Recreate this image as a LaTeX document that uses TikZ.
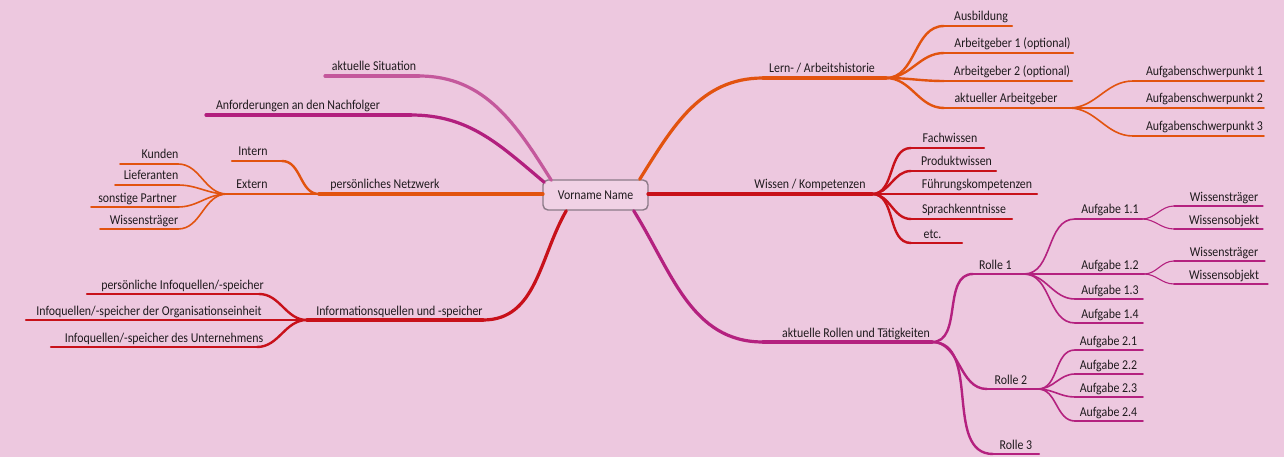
\documentclass[tikz,border=0pt]{standalone}
\usepackage{fontspec}
\setmainfont{Carlito}[FakeStretch=0.88]
\definecolor{bg}{HTML}{EDC8DF}
\definecolor{boxfill}{HTML}{F0D1E5}
\definecolor{boxline}{HTML}{8C7A88}
\definecolor{txt}{HTML}{1F1A1D}
\definecolor{csit}{HTML}{C4589C}
\definecolor{canf}{HTML}{B21F7E}
\definecolor{corg}{HTML}{E2530F}
\definecolor{cred}{HTML}{C8111A}
\definecolor{cmag}{HTML}{B4217F}
\tikzset{
  lbl/.style={anchor=base, inner sep=0pt, font=\fontsize{13.5}{15}\selectfont, text=txt},
  ln/.style={line cap=round, draw=#1},
  w0/.style={line width=3.2pt},
  w1/.style={line width=2.4pt},
  w2/.style={line width=1.6pt},
  w3/.style={line width=1.1pt},
}
\newcommand\topic[7]{%
  \coordinate (#1-l) at (#3,#5);
  \coordinate (#1-r) at (#4,#5);
  \node[lbl] (#1) at (#6,#5-5) {#7};
  \draw[#2] (#1-l) -- (#1-r);
}
\newcommand\conR[3]{\draw[#1] (#2) to[out=0,in=180] (#3);}
\newcommand\conL[3]{\draw[#1] (#2) to[out=180,in=0] (#3);}
\begin{document}
\begin{tikzpicture}[x=1pt,y=-1pt]
\fill[bg] (0,0) rectangle (1284,457);
\useasboundingbox (0,0) rectangle (1284,457);

% center
\node[draw=boxline, fill=boxfill, line width=1.4pt, rounded corners=5pt,
      minimum width=105pt, minimum height=30pt, inner sep=0pt,
      font=\fontsize{13.5}{15}\selectfont, text=txt] (c) at (595.5,195) {Vorname Name};

% ---------- left side ----------
\topic{sit}{ln=csit,w0}{325}{419}{76}{374}{aktuelle Situation}
\topic{anf}{ln=canf,w0}{206}{411}{115}{298}{Anforderungen an den Nachfolger}
\draw[ln=csit,w0] ([xshift=9pt,yshift=-1pt]c.north west) to[out=122,in=0] (sit-r);
\draw[ln=canf,w0] ([xshift=2pt,yshift=-3pt]c.north west) to[out=140,in=0] (anf-r);

\topic{netz}{ln=corg,w0}{319}{543}{194}{385}{persönliches Netzwerk}
\topic{intern}{ln=corg,w1}{232}{282}{161}{253}{Intern}
\topic{extern}{ln=corg,w1}{227}{319}{194}{252}{Extern}
\conL{ln=corg,w1}{netz-l}{intern-r}
\topic{kunden}{ln=corg,w2}{120}{178}{164}{160}{Kunden}
\topic{liefer}{ln=corg,w2}{115}{178}{185}{151}{Lieferanten}
\topic{sonst}{ln=corg,w2}{91}{178}{207}{137.5}{sonstige Partner}
\topic{wtr}{ln=corg,w2}{100}{178}{229}{144}{Wissensträger}
\foreach \t in {kunden,liefer,sonst,wtr}{\conL{ln=corg,w2}{extern-l}{\t-r}}

\topic{info}{ln=cred,w0}{307}{483}{320}{399.5}{Informationsquellen und -speicher}
\draw[ln=cred,w0] ([xshift=24pt]c.south west) to[out=240,in=0] (info-r);
\topic{pinfo}{ln=cred,w1}{87}{259}{294}{182.5}{persönliche Infoquellen/-speicher}
\topic{org}{ln=cred,w1}{26}{307}{320}{149}{Infoquellen/-speicher der Organisationseinheit}
\topic{unt}{ln=cred,w1}{51}{257}{347}{164}{Infoquellen/-speicher des Unternehmens}
\conL{ln=cred,w1}{info-l}{pinfo-r}
\conL{ln=cred,w1}{info-l}{unt-r}

% ---------- right side ----------
\topic{lern}{ln=corg,w0}{763}{886}{78}{822}{Lern- / Arbeitshistorie}
\draw[ln=corg,w0] ([xshift=-9pt]c.north east) to[out=58,in=180] (lern-l);
\topic{ausb}{ln=corg,w1}{944}{1012}{26}{981}{Ausbildung}
\topic{ag1}{ln=corg,w1}{944}{1073}{53}{1012.5}{Arbeitgeber 1 (optional)}
\topic{ag2}{ln=corg,w1}{944}{1072}{81}{1012}{Arbeitgeber 2 (optional)}
\topic{akag}{ln=corg,w1}{944}{1069}{108}{1006}{aktueller Arbeitgeber}
\foreach \t in {ausb,ag1,ag2,akag}{\conR{ln=corg,w1}{lern-r}{\t-l}}
\topic{asp1}{ln=corg,w2}{1133}{1264}{81}{1204.5}{Aufgabenschwerpunkt 1}
\topic{asp2}{ln=corg,w2}{1133}{1264}{108}{1204.5}{Aufgabenschwerpunkt 2}
\topic{asp3}{ln=corg,w2}{1133}{1264}{136}{1204.5}{Aufgabenschwerpunkt 3}
\foreach \t in {asp1,asp2,asp3}{\conR{ln=corg,w2}{akag-r}{\t-l}}

\topic{wiss}{ln=cred,w0}{648}{872}{194}{810}{Wissen / Kompetenzen}
\topic{fach}{ln=cred,w1}{911}{984}{148}{950}{Fachwissen}
\topic{prod}{ln=cred,w1}{911}{996}{171}{956.5}{Produktwissen}
\topic{fuehr}{ln=cred,w1}{911}{1037}{194}{977}{Führungskompetenzen}
\topic{sprach}{ln=cred,w1}{911}{1012}{219}{964}{Sprachkenntnisse}
\topic{etc}{ln=cred,w1}{911}{962}{243}{932.5}{etc.}
\foreach \t in {fach,prod,fuehr,sprach,etc}{\conR{ln=cred,w1}{wiss-r}{\t-l}}

\topic{rollen}{ln=cmag,w0}{763}{932}{342}{856}{aktuelle Rollen und Tätigkeiten}
\draw[ln=cmag,w0] ([xshift=-15pt]c.south east) to[out=-58,in=180] (rollen-l);
\topic{r1}{ln=cmag,w1}{973}{1024}{274}{995.5}{Rolle 1}
\topic{r2}{ln=cmag,w1}{987}{1038}{389}{1011}{Rolle 2}
\topic{r3}{ln=cmag,w1}{993}{1039}{454}{1016}{Rolle 3}
\foreach \t in {r1,r2,r3}{\conR{ln=cmag,w1}{rollen-r}{\t-l}}

\topic{a11}{ln=cmag,w2}{1075}{1142}{219}{1110}{Aufgabe 1.1}
\topic{a12}{ln=cmag,w2}{1075}{1144}{274}{1110}{Aufgabe 1.2}
\topic{a13}{ln=cmag,w2}{1075}{1143}{299}{1110}{Aufgabe 1.3}
\topic{a14}{ln=cmag,w2}{1075}{1143}{323}{1110}{Aufgabe 1.4}
\foreach \t in {a11,a12,a13,a14}{\conR{ln=cmag,w2}{r1-r}{\t-l}}
\topic{a21}{ln=cmag,w2}{1075}{1143}{350}{1108.5}{Aufgabe 2.1}
\topic{a22}{ln=cmag,w2}{1075}{1143}{374}{1108.5}{Aufgabe 2.2}
\topic{a23}{ln=cmag,w2}{1075}{1143}{397}{1108.5}{Aufgabe 2.3}
\topic{a24}{ln=cmag,w2}{1075}{1143}{421}{1108.5}{Aufgabe 2.4}
\foreach \t in {a21,a22,a23,a24}{\conR{ln=cmag,w2}{r2-r}{\t-l}}

\topic{ws1}{ln=cmag,w3}{1174}{1263}{206}{1224}{Wissensträger}
\topic{wo1}{ln=cmag,w3}{1174}{1263}{229}{1224}{Wissensobjekt}
\topic{ws2}{ln=cmag,w3}{1174}{1265}{261}{1224}{Wissensträger}
\topic{wo2}{ln=cmag,w3}{1174}{1268}{284}{1224}{Wissensobjekt}
\conR{ln=cmag,w3}{a11-r}{ws1-l}
\conR{ln=cmag,w3}{a11-r}{wo1-l}
\conR{ln=cmag,w3}{a12-r}{ws2-l}
\conR{ln=cmag,w3}{a12-r}{wo2-l}
\end{tikzpicture}
\end{document}
